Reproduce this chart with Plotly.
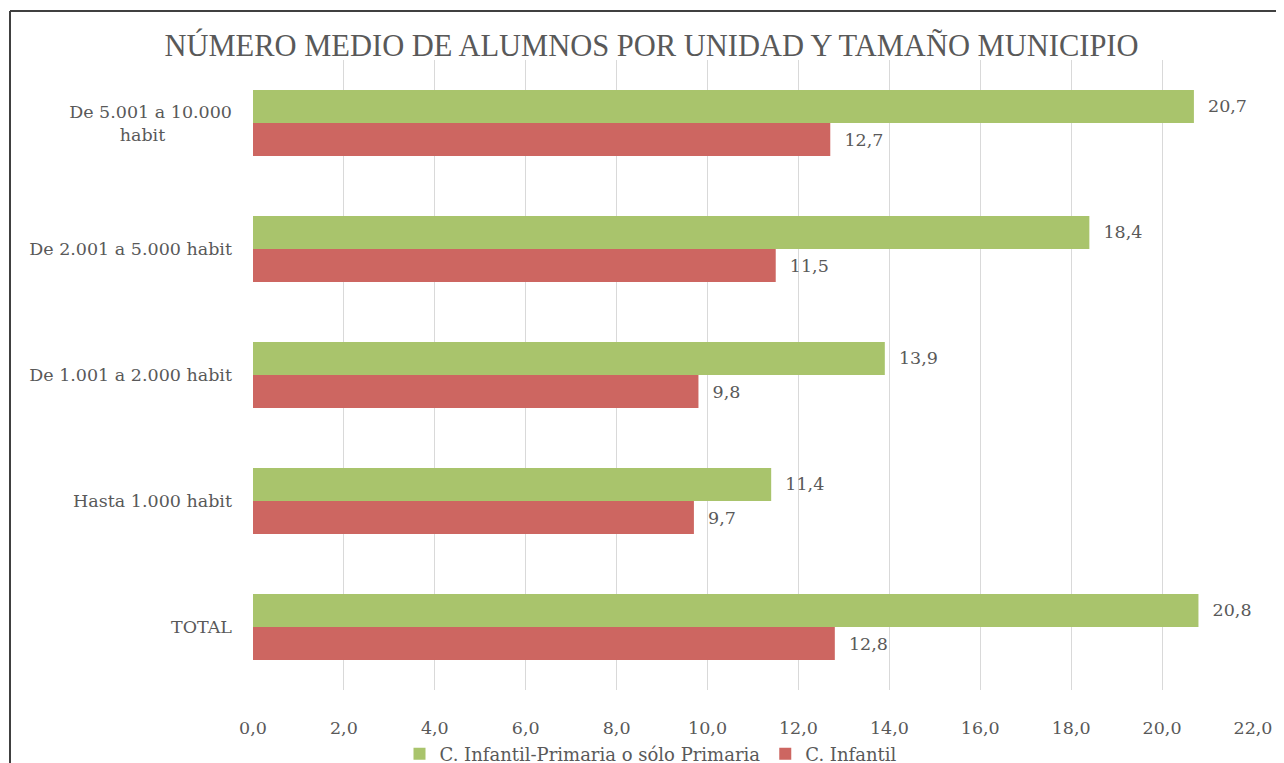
import plotly.graph_objects as go

# Data (bottom to top order on the chart)
categories = ["TOTAL", "Hasta 1.000 habit", "De 1.001 a 2.000 habit",
              "De 2.001 a 5.000 habit", "De 5.001 a 10.000 habit"]
tick_labels = ["TOTAL", "Hasta 1.000 habit", "De 1.001 a 2.000 habit",
               "De 2.001 a 5.000 habit",
               "De 5.001 a 10.000<br>habit" + "&nbsp;" * 12]
infantil_primaria = [20.8, 11.4, 13.9, 18.4, 20.7]
infantil = [12.8, 9.7, 9.8, 11.5, 12.7]
x_ticks = [0, 2, 4, 6, 8, 10, 12, 14, 16, 18, 20, 22]

FONT = "DejaVu Serif"
TFONT = "Liberation Serif"
TXT = "#595959"
GREEN = "#A9C46C"
RED = "#CD6661"
FS = 17.5

fig = go.Figure()
fig.add_trace(go.Bar(
    y=categories, x=infantil, orientation="h", name="C. Infantil",
    marker=dict(color=RED, line=dict(width=0)),
    texttemplate="&nbsp;&nbsp;%{x:.1f}", textposition="outside",
    textfont=dict(family=FONT, size=FS, color=TXT),
    cliponaxis=False, legendrank=2,
))
fig.add_trace(go.Bar(
    y=categories, x=infantil_primaria, orientation="h",
    name="C. Infantil-Primaria o sólo Primaria",
    marker=dict(color=GREEN, line=dict(width=0)),
    texttemplate="&nbsp;&nbsp;%{x:.1f}", textposition="outside",
    textfont=dict(family=FONT, size=FS, color=TXT),
    cliponaxis=False, legendrank=1,
))

fig.update_layout(
    width=1276, height=800,
    margin=dict(l=245, r=31, t=52, b=118),
    paper_bgcolor="white", plot_bgcolor="white",
    barmode="group", bargap=0.476, bargroupgap=0,
    separators=",.",
    font=dict(family=FONT, size=FS, color=TXT),
    title=dict(text="NÚMERO MEDIO DE ALUMNOS POR UNIDAD Y TAMAÑO MUNICIPIO",
               font=dict(family=TFONT, size=30.5, color=TXT),
               x=0.5043, xanchor="center", y=1 - 37 / 800, yanchor="middle"),
    showlegend=True,
    legend=dict(orientation="h", x=0.398, xanchor="center", y=-0.1015, yanchor="middle",
                font=dict(family=FONT, size=18, color=TXT),
                itemwidth=30, tracegroupgap=0, bgcolor="rgba(0,0,0,0)"),
    xaxis=dict(range=[0, 22], tickvals=x_ticks, tickformat=".1f",
               showgrid=True, gridcolor="#D9D9D9", gridwidth=1,
               zeroline=False, showline=False, ticks="",
               ticklabelstandoff=25,
               tickfont=dict(family=FONT, size=FS, color=TXT)),
    yaxis=dict(categoryorder="array", categoryarray=categories,
               tickvals=categories, ticktext=tick_labels,
               showgrid=False, zeroline=False, showline=False, ticks="",
               ticklabelstandoff=20,
               tickfont=dict(family=FONT, size=FS, color=TXT)),
    shapes=[
        dict(type="line", xref="paper", yref="paper",
             x0=-0.243, x1=1.1, y0=1.0778, y1=1.0778,
             line=dict(color="#404040", width=2)),
        dict(type="line", xref="paper", yref="paper",
             x0=-0.243, x1=-0.243, y0=1.0778, y1=-0.3,
             line=dict(color="#404040", width=2)),
    ],
)

fig.write_html("out.html")
